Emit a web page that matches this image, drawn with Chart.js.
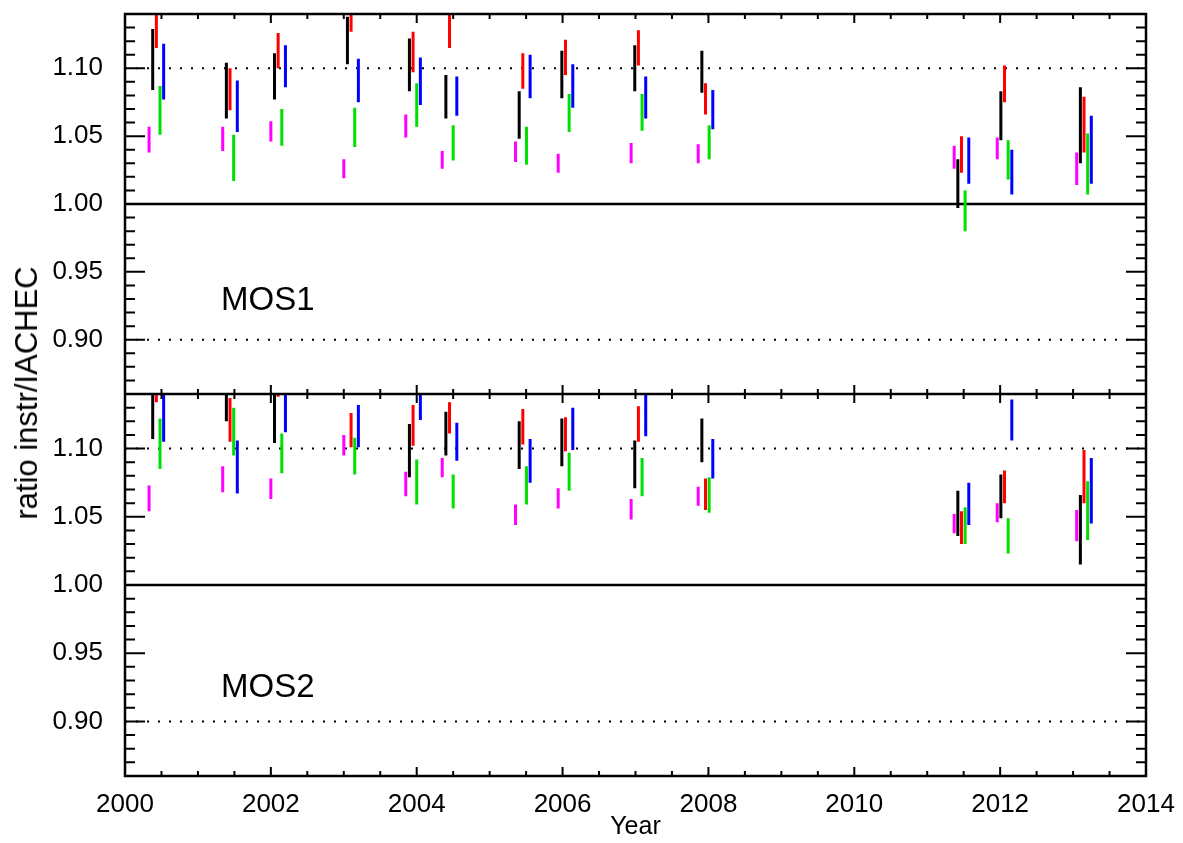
<!DOCTYPE html>
<html>
<head>
<meta charset="utf-8">
<script src="https://cdn.jsdelivr.net/npm/chart.js@4"></script>
<style>
  body { margin: 0; background: #fff; width: 1183px; height: 843px; overflow: hidden; position: relative; font-family: "Liberation Sans", Arial, sans-serif; }
  canvas { position: absolute; left: 0; }
  #c1 { top: 0; }
  #c2 { top: 394px; }
  #ytitle { position: absolute; left: 27px; top: 393px; transform: translate(-50%, -50%) rotate(-90deg); font-size: 31px; white-space: nowrap; }
  .lab { position: absolute; left: 221px; font-size: 33px; }
</style>
</head>
<body>
<canvas id="c1"></canvas>
<canvas id="c2"></canvas>
<div id="ytitle">ratio instr/IACHEC</div>
<div class="lab" style="top:280px">MOS1</div>
<div class="lab" style="top:667px">MOS2</div>
<script>
// observation epochs (year), one group of five bars per epoch
const epochs = [2000.43, 2001.44, 2002.10, 2003.10, 2003.95, 2004.45, 2005.455, 2006.04, 2007.04, 2007.96, 2011.47, 2012.06, 2013.15];
const colors = ["#ff00ff", "#000000", "#ff0000", "#00e000", "#0000ff"];
const offsets = [-0.1, -0.05, 0, 0.05, 0.1];
const yTicks = [0.90, 0.95, 1.00, 1.05, 1.10];

// MOS1 ranges [low, high]
const mos1Magenta = [[1.038,1.057],[1.039,1.057],[1.046,1.061],[1.019,1.033],[1.049,1.066],[1.026,1.039],[1.031,1.046],[1.023,1.037],[1.030,1.045],[1.030,1.044],[1.026,1.043],[1.033,1.049],[1.014,1.038]];
const mos1Black = [[1.084,1.129],[1.063,1.104],[1.077,1.111],[1.103,1.138],[1.083,1.122],[1.063,1.095],[1.048,1.083],[1.078,1.113],[1.083,1.117],[1.082,1.113],[0.997,1.033],[1.047,1.083],[1.030,1.086]];
const mos1Red = [[1.115,1.145],[1.069,1.100],[1.100,1.126],[1.127,1.145],[1.097,1.127],[1.115,1.145],[1.085,1.111],[1.095,1.121],[1.102,1.128],[1.066,1.089],[1.023,1.050],[1.075,1.102],[1.038,1.079]];
const mos1Green = [[1.051,1.087],[1.017,1.051],[1.043,1.070],[1.042,1.071],[1.057,1.089],[1.032,1.058],[1.029,1.057],[1.053,1.081],[1.054,1.081],[1.033,1.058],[0.980,1.010],[1.018,1.047],[1.007,1.052]];
const mos1Blue = [[1.077,1.118],[1.053,1.091],[1.086,1.117],[1.075,1.107],[1.073,1.108],[1.065,1.094],[1.078,1.110],[1.071,1.103],[1.063,1.094],[1.055,1.084],[1.015,1.049],[1.007,1.040],[1.015,1.065]];

// MOS2 ranges [low, high]
const mos2Magenta = [[1.054,1.073],[1.068,1.087],[1.063,1.078],[1.095,1.110],[1.065,1.083],[1.079,1.093],[1.044,1.059],[1.056,1.071],[1.048,1.063],[1.058,1.072],[1.038,1.052],[1.046,1.060],[1.032,1.055]];
const mos2Black = [[1.107,1.145],[1.120,1.145],[1.104,1.145],null,[1.079,1.118],[1.095,1.127],[1.085,1.120],[1.087,1.122],[1.071,1.106],[1.090,1.122],[1.036,1.069],[1.049,1.081],[1.015,1.066]];
const mos2Red = [[1.134,1.145],[1.105,1.137],[1.138,1.145],[1.101,1.126],[1.102,1.132],[1.111,1.134],[1.103,1.129],[1.098,1.123],[1.105,1.131],[1.055,1.078],[1.030,1.054],[1.060,1.084],[1.060,1.099]];
const mos2Green = [[1.085,1.122],[1.095,1.130],[1.082,1.111],[1.081,1.108],[1.059,1.092],[1.056,1.081],[1.059,1.087],[1.069,1.097],[1.065,1.093],[1.053,1.079],[1.030,1.057],[1.023,1.049],[1.033,1.076]];
const mos2Blue = [[1.105,1.145],[1.067,1.106],[1.112,1.145],[1.101,1.132],[1.121,1.145],[1.091,1.119],[1.075,1.107],[1.099,1.130],[1.109,1.145],[1.078,1.107],[1.044,1.075],[1.106,1.136],[1.045,1.093]];

function makeSets(series) {
  return series.map((ranges, k) => ({
    data: ranges.flatMap((r, i) => {
      const x = epochs[i] + offsets[k];
      return r ? [{ x, y: r[0] }, { x, y: r[1] }, { x, y: null }] : [];
    }),
    borderColor: colors[k], borderWidth: 3, pointRadius: 0, spanGaps: false, fill: false
  }));
}

const framePlugin = {
  id: "frame",
  beforeDatasetsDraw(chart) {
    const { ctx, chartArea: a, scales: { y } } = chart;
    ctx.save();
    ctx.strokeStyle = "#000";
    [[1.10, [2, 9]], [0.90, [2, 9]], [1.00, []]].forEach(([v, dash]) => {
      const py = y.getPixelForValue(v);
      ctx.lineWidth = dash.length ? 2 : 2.5;
      ctx.setLineDash(dash);
      ctx.beginPath(); ctx.moveTo(a.left, py); ctx.lineTo(a.right, py); ctx.stroke();
    });
    ctx.restore();
  },
  afterDatasetsDraw(chart) {
    const { ctx, chartArea: a, scales: { x, y } } = chart;
    ctx.save();
    ctx.strokeStyle = "#000";
    ctx.lineWidth = 2.5;
    ctx.strokeRect(a.left, a.top, a.right - a.left, a.bottom - a.top);
    ctx.lineWidth = 2;
    for (let i = 86; i <= 114; i++) {
      const py = y.getPixelForValue(i / 100);
      const len = i % 5 === 0 ? 20 : 10;
      ctx.beginPath();
      ctx.moveTo(a.left, py); ctx.lineTo(a.left + len, py);
      ctx.moveTo(a.right, py); ctx.lineTo(a.right - len, py);
      ctx.stroke();
    }
    for (let i = 0; i <= 28; i++) {
      const px = x.getPixelForValue(2000 + i / 2);
      const len = i % 4 === 0 ? 9 : 5;
      ctx.beginPath();
      ctx.moveTo(px, a.top); ctx.lineTo(px, a.top + len);
      ctx.moveTo(px, a.bottom); ctx.lineTo(px, a.bottom - len);
      ctx.stroke();
    }
    ctx.restore();
  }
};

const font = (size) => ({ family: "'Liberation Sans', Arial", size });

function makeChart(id, series, height, showX) {
  const el = document.getElementById(id);
  el.width = 1183; el.height = height;
  return new Chart(el, {
    type: "line",
    data: { datasets: makeSets(series) },
    plugins: [framePlugin],
    options: {
      responsive: false, animation: false,
      layout: { padding: { left: 0, right: 37, top: showX ? 0 : 14, bottom: 0 } },
      plugins: { legend: { display: false }, tooltip: { enabled: false } },
      scales: {
        x: {
          type: "linear", min: 2000, max: 2014,
          grid: { display: false }, border: { display: false },
          afterBuildTicks: (s) => { s.ticks = [2000, 2002, 2004, 2006, 2008, 2010, 2012, 2014].map(v => ({ value: v })); },
          afterFit: (s) => { s.height = showX ? 67 : 0; s.paddingLeft = 0; s.paddingRight = 0; },
          ticks: { display: showX, color: "#000", padding: 5, maxRotation: 0, autoSkip: false,
                   font: font(26), callback: (v) => String(v) },
          title: { display: showX, text: "Year", color: "#000", padding: { top: 0, bottom: 1 }, font: font(25) }
        },
        y: {
          min: 0.86, max: 1.14,
          grid: { display: false }, border: { display: false },
          afterBuildTicks: (s) => { s.ticks = yTicks.map(v => ({ value: v })); },
          afterFit: (s) => { s.width = 125; s.paddingTop = 0; s.paddingBottom = 0; },
          ticks: { color: "#000", padding: 14, font: font(26), callback: (v) => v.toFixed(2) }
        }
      }
    }
  });
}

makeChart("c1", [mos1Magenta, mos1Black, mos1Red, mos1Green, mos1Blue], 394, false);
makeChart("c2", [mos2Magenta, mos2Black, mos2Red, mos2Green, mos2Blue], 449, true);
</script>
</body>
</html>
